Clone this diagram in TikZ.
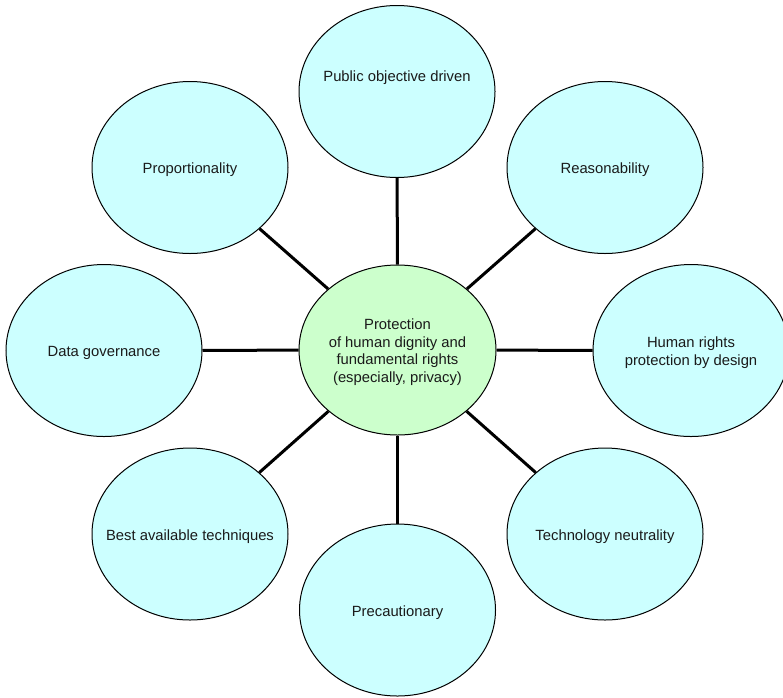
\documentclass[tikz,border=0pt]{standalone}
\usepackage{fontspec}
\setmainfont{Liberation Sans}
\usetikzlibrary{shapes.geometric}
\definecolor{outerfill}{HTML}{CCFFFF}
\definecolor{corefill}{HTML}{CCFFCC}
\definecolor{inktext}{HTML}{1A1A1A}
% centred lines of text that do not widen the surrounding ellipse;
% the optional argument lifts the text inside its ellipse
\newcommand{\bubbletext}[2][-2.5pt]{%
  \raisebox{#1}[\height][\depth]{\makebox[0pt][c]{\begin{tabular}{@{}c@{}}#2\end{tabular}}}}
\begin{document}
\begin{tikzpicture}[x=1pt,y=-1pt,
  bubble/.style={ellipse, draw=black, line width=1pt, fill=outerfill,
    minimum width=196pt, minimum height=172pt, inner sep=0pt,
    text=inktext, font=\fontsize{14.8}{17.6}\selectfont},
  core/.style={bubble, fill=corefill, minimum width=197pt, minimum height=170pt},
  spoke/.style={line width=3pt, black}]
  \useasboundingbox (0,0) rectangle (783,697);
  \clip (0,0) rectangle (783,697);

  % outer principles
  \node[bubble] (pub)  at (397,91.5)  {\bubbletext[14pt]{Public objective driven}};
  \node[bubble] (reas) at (605,167.5) {\bubbletext{Reasonability}};
  \node[bubble] (hr)   at (691,350.5) {\bubbletext{Human rights\\protection by design}};
  \node[bubble] (tech) at (605,534)   {\bubbletext{Technology neutrality}};
  \node[bubble] (prec) at (397.5,610) {\bubbletext{Precautionary}};
  \node[bubble] (best) at (190,534)   {\bubbletext{Best available techniques}};
  \node[bubble] (data) at (104,350.5) {\bubbletext{Data governance}};
  \node[bubble] (prop) at (190,167.5) {\bubbletext{Proportionality}};

  % central value
  \node[core] (c) at (397.5,350) {\bubbletext{Protection\\of human dignity and\\fundamental rights\\(especially, privacy)}};

  % spokes
  \foreach \o in {pub,reas,hr,tech,prec,best,data,prop}
    \draw[spoke] (c) -- (\o);
\end{tikzpicture}
\end{document}
